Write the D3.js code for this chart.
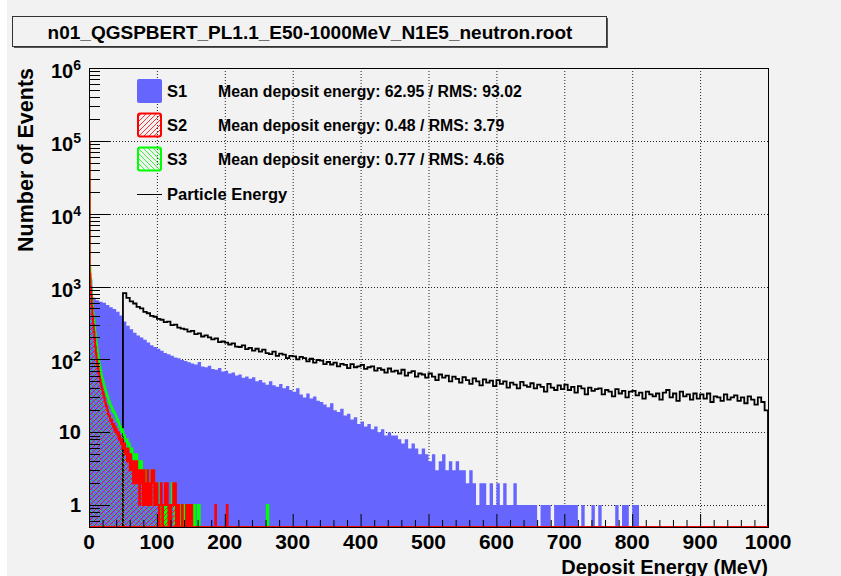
<!DOCTYPE html>
<html>
<head>
<meta charset="utf-8">
<script src="https://cdn.jsdelivr.net/npm/d3@7"></script>
<style>
  body { margin: 0; background: #fff; }
  svg { display: block; }
  text { font-family: "Liberation Sans", Arial, Helvetica, sans-serif; font-weight: bold; fill: #000; }
</style>
</head>
<body>
<svg></svg>
<script>
const width = 841;
const height = 576;
const plot = { left: 89, right: 768, top: 68, bottom: 527 };

const title = 'n01_QGSPBERT_PL1.1_E50-1000MeV_N1E5_neutron.root';
const xTitle = 'Deposit Energy (MeV)';
const yTitle = 'Number of Events';

const xTicks = [0, 100, 200, 300, 400, 500, 600, 700, 800, 900, 1000];
const yTicks = [1, 10, 100, 1000, 10000, 100000, 1000000];

const legendNames = ['S1', 'S2', 'S3', 'Particle Energy'];
const meanValues = [62.95, 0.48, 0.77];
const rmsValues = [93.02, 3.79, 4.66];

// S1 deposit, 5 MeV bins starting at 0 (empty above 850)
const s1BinWidth = 5;
const s1Counts = [
  1250, 700, 650, 620, 600, 560, 520, 490, 450, 400,
  330, 290, 260, 232, 212, 200, 186, 170, 156, 148,
  140, 131, 122, 118, 112, 106, 104, 98, 95, 91,
  88, 85, 92, 80, 78, 82, 74, 72, 76, 68,
  70, 64, 66, 60, 62, 56, 58, 54, 57, 50,
  52, 48, 45, 50, 44, 42, 46, 40, 43, 38,
  36, 40, 33, 30, 34, 29, 31, 27, 26, 24,
  22, 25, 20, 19, 21, 17, 18, 15, 16, 13,
  14, 12, 13, 11, 12, 10, 11, 9, 10, 9,
  9, 8, 7, 8, 6, 7, 6, 5, 6, 5,
  4, 5, 3, 4, 5, 3, 4, 3, 4, 3,
  3, 2, 3, 2, 1, 2, 2, 1, 2, 1,
  2, 1, 2, 1, 1, 2, 1, 1, 1, 1,
  1, 1, 0, 1, 1, 1, 0, 1, 1, 1,
  1, 1, 1, 1, 0, 1, 0, 0, 1, 0,
  1, 0, 0, 0, 0, 1, 0, 1, 1, 0,
  1, 1, 0
];

// particle (primary) energy, 5 MeV bins from 50 to 1000
const peStart = 50;
const peBinWidth = 5;
const peCounts = [
  810, 700, 625, 585, 525, 500, 450, 430, 395, 385,
  360, 350, 325, 330, 296, 300, 272, 265, 258, 240,
  246, 222, 228, 206, 214, 200, 188, 194, 172, 176,
  170, 160, 166, 150, 148, 156, 138, 144, 132, 140,
  128, 136, 122, 118, 128, 112, 120, 116, 104, 112,
  110, 100, 108, 104, 94, 102, 90, 98, 96, 86,
  92, 85, 90, 80, 87, 84, 76, 86, 78, 80,
  84, 74, 78, 80, 70, 76, 72, 66, 75, 68,
  70, 64, 72, 60, 66, 69, 58, 64, 62, 56,
  64, 58, 52, 62, 56, 60, 50, 58, 54, 48,
  57, 52, 46, 55, 50, 44, 53, 48, 51, 43,
  52, 46, 50, 41, 48, 45, 40, 49, 44, 42,
  47, 40, 45, 42, 36, 46, 41, 38, 44, 39,
  45, 38, 42, 35, 43, 40, 33, 41, 37, 39,
  40, 33, 38, 36, 31, 39, 34, 37, 30, 36,
  37, 32, 35, 29, 36, 33, 31, 34, 28, 35,
  38, 30, 34, 27, 36, 31, 33, 28, 34, 29,
  33, 29, 34, 26, 31, 30, 27, 33, 28, 30,
  32, 27, 30, 25, 31, 28, 24, 30, 26, 20
];

// S2 and S3 deposits, 1 MeV bins from 0, plus isolated single counts further out
const s2Counts = [
  95000, 1500, 1000, 760, 520, 400, 300, 240, 190, 150,
  120, 100, 85, 75, 66, 58, 52, 47, 42, 39,
  35, 33, 30, 27, 25, 23, 22, 20, 18, 17,
  17, 15, 14, 15, 13, 12, 13, 11, 12, 10,
  11, 10, 9, 10, 8, 9, 8, 7, 8, 6,
  7, 6, 7, 5, 6, 5, 4, 6, 4, 5,
  3, 5, 4, 3, 4, 2, 4, 3, 3, 2,
  4, 2, 3, 3, 1, 3, 2, 2, 3, 1,
  2, 3, 1, 2, 2, 1, 3, 1, 2, 1,
  2, 1, 3, 2, 3, 3, 1, 2, 1, 1,
  2, 1, 1, 0, 1, 1, 2, 1, 0, 1,
  1, 1, 2, 2, 1, 2, 1, 0, 1, 1,
  0, 1, 1, 1, 2, 2, 1, 2, 0, 1,
  0, 0, 1, 0, 0, 0, 0, 1, 0, 0,
  0, 0, 0, 1, 1, 0, 1, 1, 0, 0,
  1, 1
];
const s2Tail = [[186, 1], [203, 1]];

const s3Counts = [
  92000, 1800, 1300, 950, 700, 540, 430, 350, 280, 230,
  190, 160, 135, 115, 100, 88, 78, 70, 62, 56,
  52, 48, 44, 41, 38, 35, 33, 31, 29, 27,
  26, 24, 23, 22, 21, 20, 19, 19, 18, 17,
  16, 15, 15, 14, 13, 12, 12, 11, 10, 11,
  10, 9, 9, 8, 8, 7, 8, 7, 6, 7,
  6, 6, 5, 6, 5, 5, 4, 5, 4, 4,
  5, 4, 3, 4, 4, 3, 3, 4, 3, 2,
  3, 3, 2, 3, 3, 2, 2, 1, 2, 2,
  1, 2, 3, 3, 3, 2, 1, 2, 1, 1,
  1, 2, 1, 1, 0, 1, 1, 0, 1, 1,
  1, 0, 1, 1, 0, 1, 1, 0, 1, 0,
  1, 1, 2, 2, 2, 1, 0, 1, 0, 0,
  0, 1, 0, 0, 1, 1, 1, 1, 0, 0,
  0, 1, 0, 0, 0, 0, 0, 0, 0, 0,
  0, 0, 0, 0, 1, 1, 0, 0, 0, 0,
  1, 1, 1
];
const s3Tail = [[262, 1], [263, 1]];

const svg = d3.select('svg')
              .attr('width', width)
              .attr('height', height);

// canvas background
svg.append('rect')
   .attr('x', 7).attr('y', 0)
   .attr('width', width - 7).attr('height', height)
   .attr('fill', '#f2f2f2');

const x = d3.scaleLinear().domain([0, 1000]).range([plot.left, plot.right]);
const y = d3.scaleLog().domain([0.5, 1e6]).range([plot.bottom, plot.top]);
const yv = c => (c > 0.5 ? y(c) : plot.bottom);

// hatch patterns for S2 (/) and S3 (\)
const defs = svg.append('defs');
const hatch = (id, color, forward) => {
  const p = defs.append('pattern')
                .attr('id', id)
                .attr('patternUnits', 'userSpaceOnUse')
                .attr('width', 5).attr('height', 5);
  p.append('path')
   .attr('d', forward ? 'M-1,1L1,-1M0,5L5,0M4,6L6,4' : 'M-1,4L1,6M0,0L5,5M4,-1L6,1')
   .attr('stroke', color)
   .attr('stroke-width', 0.8);
};
hatch('hatchRed', '#ff0000', true);
hatch('hatchGreen', '#00ff00', false);

defs.append('clipPath').attr('id', 'plotClip')
    .append('rect')
    .attr('x', plot.left).attr('y', plot.top - 2)
    .attr('width', plot.right - plot.left)
    .attr('height', plot.bottom - plot.top + 2);

// spread the short arrays + tails over 1 MeV bins up to 1000
const fullBins = (counts, tail) => {
  const bins = new Array(1000).fill(0);
  counts.forEach((c, i) => { bins[i] = c; });
  tail.forEach(([e, c]) => { bins[e] = c; });
  return bins;
};
const s2Bins = fullBins(s2Counts, s2Tail);
const s3Bins = fullBins(s3Counts, s3Tail);

const stepPath = (counts, start, bw) => {
  let p = `M${x(start)},${plot.bottom}`;
  counts.forEach((c, i) => {
    const yy = yv(c);
    p += `L${x(start + i * bw)},${yy}L${x(start + (i + 1) * bw)},${yy}`;
  });
  p += `L${x(start + counts.length * bw)},${plot.bottom}`;
  return p;
};

// grid (dotted)
const grid = svg.append('g').attr('stroke', '#222').attr('stroke-dasharray', '1,2');
grid.selectAll('line.gx')
    .data(xTicks.filter(t => t > 0 && t < 1000))
    .enter().append('line')
      .attr('x1', d => x(d) + 0.5).attr('x2', d => x(d) + 0.5)
      .attr('y1', plot.top).attr('y2', plot.bottom);
grid.selectAll('line.gy')
    .data(yTicks.filter(t => t < 1e6))
    .enter().append('line')
      .attr('x1', plot.left).attr('x2', plot.right)
      .attr('y1', d => Math.round(y(d)) + 0.5).attr('y2', d => Math.round(y(d)) + 0.5);

const hist = svg.append('g').attr('clip-path', 'url(#plotClip)');

// S1 filled
hist.append('path')
    .attr('d', stepPath(s1Counts, 0, s1BinWidth) + 'Z')
    .attr('fill', '#6666ff')
    .attr('stroke', 'none');

// particle energy outline
hist.append('path')
    .attr('d', stepPath(peCounts, peStart, peBinWidth))
    .attr('fill', 'none')
    .attr('stroke', '#000')
    .attr('stroke-width', 1.8);

// S3 and S2 hatched
hist.append('path')
    .attr('d', stepPath(s3Bins, 0, 1) + 'Z')
    .attr('fill', 'url(#hatchGreen)')
    .attr('stroke', '#00ff00')
    .attr('stroke-width', 2);
hist.append('path')
    .attr('d', stepPath(s2Bins, 0, 1) + 'Z')
    .attr('fill', 'url(#hatchRed)')
    .attr('stroke', '#ff0000')
    .attr('stroke-width', 2);

// ticks, drawn inside the frame on top of the histograms
const ticks = svg.append('g').attr('stroke', '#000').attr('stroke-width', 1);
const xMinor = d3.range(0, 1001, 20).filter(v => v % 100 !== 0);
ticks.selectAll('line.xmaj')
     .data(xTicks)
     .enter().append('line')
       .attr('x1', d => x(d) + 0.5).attr('x2', d => x(d) + 0.5)
       .attr('y1', plot.bottom).attr('y2', plot.bottom - 13);
ticks.selectAll('line.xmin')
     .data(xMinor)
     .enter().append('line')
       .attr('x1', d => x(d) + 0.5).attr('x2', d => x(d) + 0.5)
       .attr('y1', plot.bottom).attr('y2', plot.bottom - 7);

const yMinor = [];
[0.1, 1, 10, 100, 1000, 10000, 100000].forEach(dec => {
  for (let k = 2; k <= 9; k++) {
    const v = k * dec;
    if (v > 0.5 && v < 1e6) yMinor.push(v);
  }
});
ticks.selectAll('line.ymaj')
     .data(yTicks)
     .enter().append('line')
       .attr('x1', plot.left).attr('x2', plot.left + 21)
       .attr('y1', d => Math.round(y(d)) + 0.5).attr('y2', d => Math.round(y(d)) + 0.5);
ticks.selectAll('line.ymin')
     .data(yMinor)
     .enter().append('line')
       .attr('x1', plot.left).attr('x2', plot.left + 11)
       .attr('y1', d => Math.round(y(d)) + 0.5).attr('y2', d => Math.round(y(d)) + 0.5);

// frame
svg.append('rect')
   .attr('x', plot.left + 0.5).attr('y', plot.top + 0.5)
   .attr('width', plot.right - plot.left).attr('height', plot.bottom - plot.top)
   .attr('fill', 'none').attr('stroke', '#000');

// x tick labels
svg.selectAll('text.xl')
   .data(xTicks)
   .enter().append('text')
     .attr('x', d => x(d))
     .attr('y', 549)
     .attr('text-anchor', 'middle')
     .attr('font-size', 21)
     .text(d => d);

// y tick labels: 1, 10, then 10^n
yTicks.forEach(v => {
  const t = svg.append('text')
               .attr('x', 81)
               .attr('text-anchor', 'end')
               .attr('font-size', 20);
  const exp = Math.round(Math.log10(v));
  if (v <= 10) {
    t.attr('y', y(v) + 7).text(v);
  } else {
    t.attr('y', y(v) + 10);
    t.append('tspan').text('10');
    t.append('tspan').attr('dy', -8).attr('font-size', 14).text(exp);
  }
});

// axis titles (the x title is cut by the canvas edge, as in the original)
svg.append('text')
   .attr('x', plot.right)
   .attr('y', 574)
   .attr('text-anchor', 'end')
   .attr('font-size', 20)
   .text(xTitle);
svg.append('text')
   .attr('transform', `translate(33,${plot.top}) rotate(-90)`)
   .attr('text-anchor', 'end')
   .attr('font-size', 21.5)
   .text(yTitle);

// title box with shadow
svg.append('rect')
   .attr('x', 14).attr('y', 18).attr('width', 594).attr('height', 30)
   .attr('fill', '#555');
svg.append('rect')
   .attr('x', 12.5).attr('y', 16.5).attr('width', 594).attr('height', 30)
   .attr('fill', '#f2f2f2').attr('stroke', '#333');
svg.append('text')
   .attr('x', 310).attr('y', 39)
   .attr('text-anchor', 'middle')
   .attr('font-size', 19)
   .text(title);

// legend
const rowY = [91, 125, 159, 194];
const legend = svg.append('g');
legend.append('rect')
      .attr('x', 137).attr('y', rowY[0] - 12).attr('width', 25).attr('height', 24)
      .attr('rx', 2).attr('fill', '#6666ff');
legend.append('rect')
      .attr('x', 138).attr('y', rowY[1] - 11.5).attr('width', 23).attr('height', 23)
      .attr('rx', 2).attr('fill', 'url(#hatchRed)')
      .attr('stroke', '#ff0000').attr('stroke-width', 2);
legend.append('rect')
      .attr('x', 138).attr('y', rowY[2] - 11.5).attr('width', 23).attr('height', 23)
      .attr('rx', 2).attr('fill', 'url(#hatchGreen)')
      .attr('stroke', '#00ff00').attr('stroke-width', 2);
legend.append('line')
      .attr('x1', 137).attr('x2', 162)
      .attr('y1', rowY[3] + 0.5).attr('y2', rowY[3] + 0.5)
      .attr('stroke', '#000');

legend.selectAll('text.name')
      .data(legendNames)
      .enter().append('text')
        .attr('x', 167)
        .attr('y', (d, i) => rowY[i] + 6)
        .attr('font-size', 16.5)
        .text(d => d);
legend.selectAll('text.stat')
      .data(meanValues)
      .enter().append('text')
        .attr('x', 218)
        .attr('y', (d, i) => rowY[i] + 5.5)
        .attr('font-size', 15.8)
        .text((d, i) => `Mean deposit energy: ${d.toFixed(2)} / RMS: ${rmsValues[i].toFixed(2)}`);
</script>
</body>
</html>
